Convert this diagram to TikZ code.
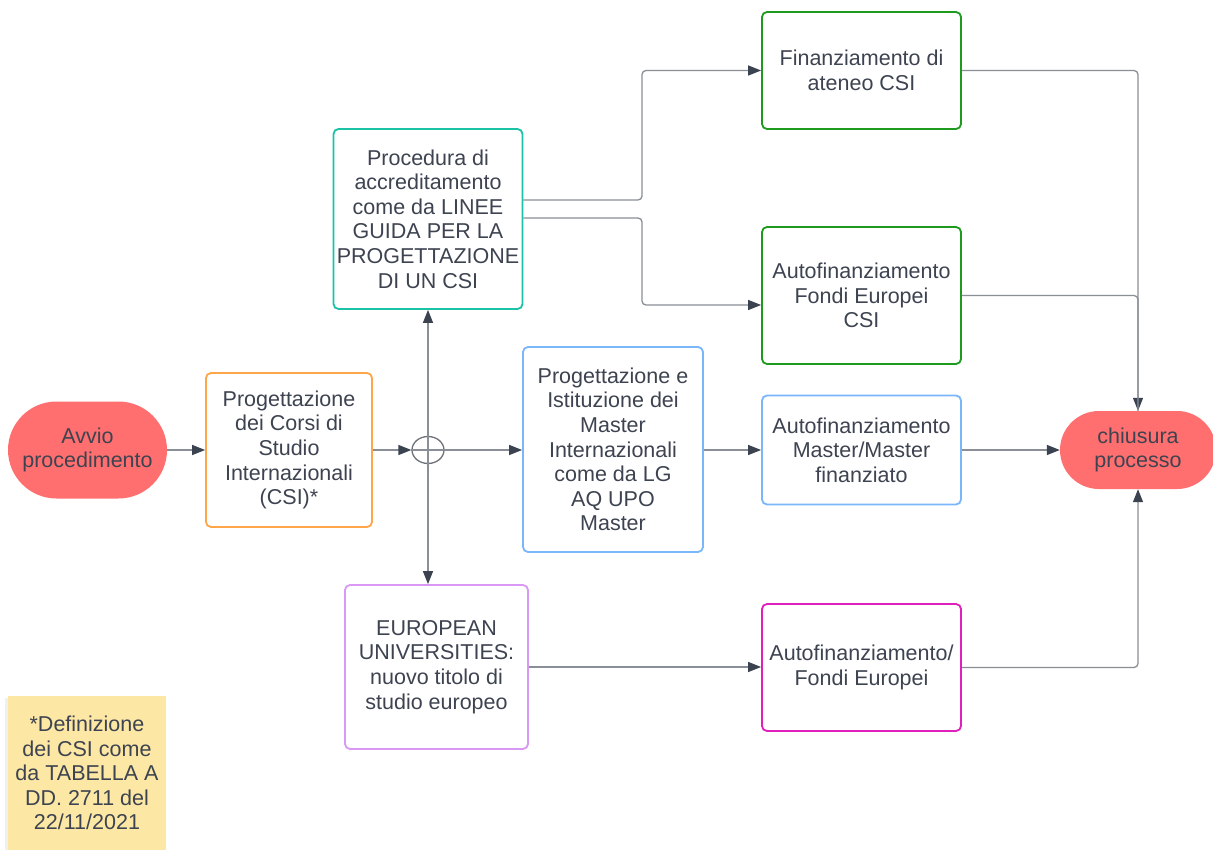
\documentclass[tikz,border=0pt]{standalone}
\usepackage{fontspec}
\setmainfont{Liberation Sans}
\usetikzlibrary{arrows.meta,shapes.geometric,shapes.misc,calc}
\definecolor{txt}{HTML}{3D4350}
\definecolor{wire}{HTML}{8A8F97}
\definecolor{tipc}{HTML}{3B4250}
\definecolor{startred}{HTML}{FF6F6F}
\definecolor{cOrange}{HTML}{FFA54A}
\definecolor{cTeal}{HTML}{1CC2A6}
\definecolor{cBlue}{HTML}{7AB6FA}
\definecolor{cPurple}{HTML}{D898F4}
\definecolor{cGreen}{HTML}{1E9A1E}
\definecolor{cMagenta}{HTML}{E020BC}
\definecolor{noteY}{HTML}{FCE7A4}
\tikzset{
  lbl/.style={align=center, text=txt, font=\fontsize{21.5}{24.6}\selectfont},
  box/.style={lbl, draw, line width=1.8pt, rounded corners=5pt, fill=white, inner sep=0pt},
  term/.style={lbl, rounded rectangle, fill=startred, inner sep=0pt},
  wire/.style={draw=wire, line width=1.3pt, rounded corners=4pt},
  arr/.style={wire, -{Triangle[length=13pt,width=10pt,color=tipc]}},
}
\begin{document}
\begin{tikzpicture}[x=1pt,y=-1pt]
\useasboundingbox (0,0) rectangle (1213,850);
\fill[white] (0,0) rectangle (1213,850);

% note with a faint shadow on its left edge
\fill[black!6] (5,698) rectangle (9,850);
\node[lbl, fill=noteY, minimum width=158pt, minimum height=154pt, inner sep=0pt] (note) at (87,773)
  {*Definizione\\dei CSI come\\da TABELLA A\\DD. 2711 del\\22/11/2021};

% terminals
\node[term, minimum width=159pt, minimum height=97pt] (start) at (87.5,450) {Avvio\\procedimento};
\node[term, minimum width=156pt, minimum height=78pt] (stop) at (1138,450) {chiusura\\processo};

% process boxes
\node[box, draw=cOrange, minimum width=166pt, minimum height=154pt] (csi) at (289,450)
  {Progettazione\\dei Corsi di\\Studio\\Internazionali\\(CSI)*};
\node[box, draw=cTeal, minimum width=189pt, minimum height=180pt] (proc) at (428,219)
  {Procedura di\\accreditamento\\come da LINEE\\GUIDA PER LA\\PROGETTAZIONE\\DI UN CSI};
\node[box, draw=cBlue, minimum width=180pt, minimum height=205pt] (mast) at (613,449.5)
  {Progettazione e\\Istituzione dei\\Master\\Internazionali\\come da LG\\AQ UPO\\Master};
\node[box, draw=cPurple, minimum width=183pt, minimum height=164pt] (eu) at (436.5,667)
  {EUROPEAN\\UNIVERSITIES:\\nuovo titolo di\\studio europeo};
\node[box, draw=cGreen, minimum width=199pt, minimum height=117pt] (fin) at (861.5,70.5)
  {Finanziamento di\\ateneo CSI};
\node[box, draw=cGreen, minimum width=199pt, minimum height=137pt] (afcsi) at (861.5,295.5)
  {Autofinanziamento\\Fondi Europei\\CSI};
\node[box, draw=cBlue, minimum width=199pt, minimum height=109pt] (afm) at (861.5,450)
  {Autofinanziamento\\Master/Master\\finanziato};
\node[box, draw=cMagenta, minimum width=199pt, minimum height=127pt] (afeu) at (861.5,667.5)
  {Autofinanziamento/\\Fondi Europei};

% junction
\node[ellipse, draw=wire!80!black, line width=1.3pt, minimum width=32pt, minimum height=27pt, inner sep=0pt] (junc) at (428,450) {};
\coordinate (jc) at (428,450);
\coordinate (xsplit) at (642,0);
\coordinate (xmerge) at (1138,0);

% connectors
\draw[arr] (start.east) -- (csi.west);
\draw[arr] (csi.east) -- (junc.west);
\draw[arr] (junc.east) -- (mast.west |- junc);
\draw[arr] (jc) -- (proc.south);
\draw[arr] (jc) -- (eu.north -| jc);
\draw[wire] (junc.north) -- (junc.south);
\draw[wire] (junc.west) -- (junc.east);

\draw[arr] (proc.east |- 0,200) -- (xsplit |- 0,200) |- (fin.west);
\draw[arr] (proc.east |- 0,218) -- (xsplit |- 0,218) |- (afcsi.west |- 0,305);
\draw[arr] (fin.east) -| (stop.north);
\draw[wire] (afcsi.east) -| (xmerge |- stop.north);
\draw[arr] (mast.east |- afm.west) -- (afm.west);
\draw[arr] (afm.east) -- (stop.west);
\draw[arr] (eu.east) -- (afeu.west |- eu.east);
\draw[arr] (afeu.east) -| (stop.south);
\end{tikzpicture}
\end{document}
